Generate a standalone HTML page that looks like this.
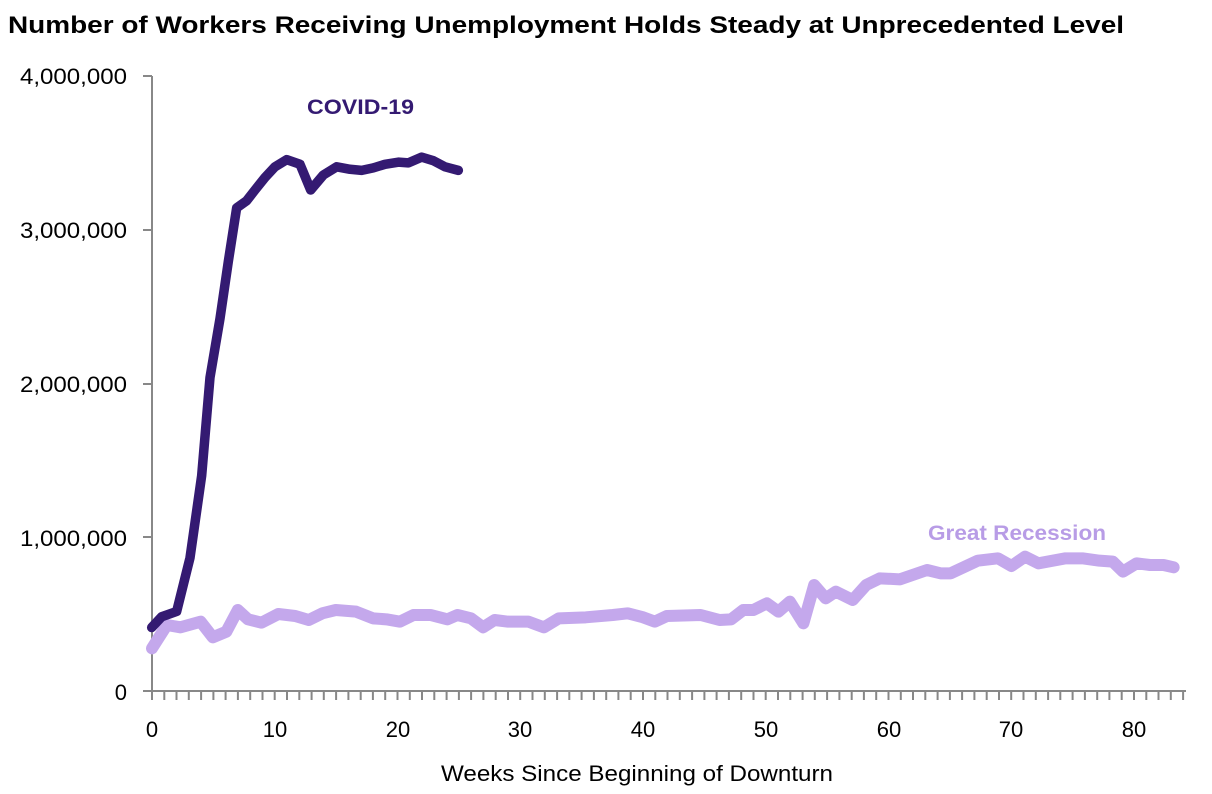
<!DOCTYPE html>
<html><head><meta charset="utf-8"><style>
html,body{margin:0;padding:0;background:#fff;}
svg{display:block;font-family:"Liberation Sans",sans-serif;}
</style></head><body>
<svg width="1212" height="794" viewBox="0 0 1212 794" xmlns="http://www.w3.org/2000/svg">
<text x="8" y="33" font-size="24" font-weight="bold" fill="#000" textLength="1116" lengthAdjust="spacingAndGlyphs">Number of Workers Receiving Unemployment Holds Steady at Unprecedented Level</text>
<g fill="#000" font-size="22" text-anchor="end">
<text x="127" y="84" textLength="107" lengthAdjust="spacingAndGlyphs">4,000,000</text>
<text x="127" y="238" textLength="107" lengthAdjust="spacingAndGlyphs">3,000,000</text>
<text x="127" y="392" textLength="107" lengthAdjust="spacingAndGlyphs">2,000,000</text>
<text x="127" y="546" textLength="107" lengthAdjust="spacingAndGlyphs">1,000,000</text>
<text x="127" y="700">0</text>
</g>
<g stroke="#888" stroke-width="2" fill="none">
<line x1="152" y1="76" x2="152" y2="692"/>
<line x1="143" y1="691" x2="1186" y2="691"/>
<line x1="143" y1="76" x2="152" y2="76"/>
<line x1="143" y1="230" x2="152" y2="230"/>
<line x1="143" y1="384" x2="152" y2="384"/>
<line x1="143" y1="537" x2="152" y2="537"/>
</g>
<g fill="#000" font-size="22" text-anchor="middle">
<text x="152" y="737">0</text>
<text x="275" y="737">10</text>
<text x="398" y="737">20</text>
<text x="520" y="737">30</text>
<text x="643" y="737">40</text>
<text x="766" y="737">50</text>
<text x="889" y="737">60</text>
<text x="1011" y="737">70</text>
<text x="1134" y="737">80</text>
</g>
<text x="441" y="781" font-size="22" fill="#000" textLength="392" lengthAdjust="spacingAndGlyphs">Weeks Since Beginning of Downturn</text>
<g transform="translate(139.84,540) scale(0.6757,0.33333)">
<polyline vector-effect="non-scaling-stroke" fill="none" stroke="#c4a8ec" stroke-width="12" stroke-linejoin="round" stroke-linecap="round" points="18,325 40,255 60,262 90,245 108,292 128,275 145,210 160,238 180,248 205,222 230,228 250,240 270,220 290,210 320,215 345,235 365,238 385,245 405,225 430,225 455,238 470,225 490,235 508,262 525,240 545,245 575,245 598,262 620,235 660,232 700,225 722,220 745,232 762,245 780,228 830,225 858,240 875,238 893,210 908,210 928,190 945,215 962,185 982,250 998,135 1015,175 1030,155 1055,180 1075,135 1095,115 1125,118 1165,90 1185,100 1200,100 1240,62 1270,55 1290,78 1310,50 1330,70 1370,55 1395,55 1420,62 1440,65 1455,95 1475,70 1495,75 1515,75 1530,82"/>
</g>
<g transform="translate(140,140) scale(0.33333,0.35714)">
<polyline vector-effect="non-scaling-stroke" fill="none" stroke="#341a72" stroke-width="9.5" stroke-linejoin="round" stroke-linecap="round" points="35,1365 65,1335 110,1320 150,1170 185,940 210,665 240,500 265,340 290,190 320,170 345,140 375,105 405,75 440,55 480,68 512,140 550,98 590,75 630,82 665,85 700,78 735,68 775,62 805,64 845,48 880,58 915,75 955,85"/>
</g>
<text x="307" y="114" font-size="21" font-weight="bold" fill="#341a72" textLength="107" lengthAdjust="spacingAndGlyphs">COVID-19</text>
<text x="928" y="540" font-size="21" font-weight="bold" fill="#b89ce6" textLength="178" lengthAdjust="spacingAndGlyphs">Great Recession</text>
<g stroke="#888" stroke-width="2">
<path d="M152 691v9M164.3 691v9M176.5 691v9M188.8 691v9M201.1 691v9M213.4 691v9M225.6 691v9M237.9 691v9M250.2 691v9M262.5 691v9M274.7 691v9M287 691v9M299.3 691v9M311.6 691v9M323.8 691v9M336.1 691v9M348.4 691v9M360.7 691v9M372.9 691v9M385.2 691v9M397.5 691v9M409.8 691v9M422 691v9M434.3 691v9M446.6 691v9M458.9 691v9M471.1 691v9M483.4 691v9M495.7 691v9M508 691v9M520.2 691v9M532.5 691v9M544.8 691v9M557.1 691v9M569.3 691v9M581.6 691v9M593.9 691v9M606.2 691v9M618.4 691v9M630.7 691v9M643 691v9M655.3 691v9M667.5 691v9M679.8 691v9M692.1 691v9M704.4 691v9M716.6 691v9M728.9 691v9M741.2 691v9M753.5 691v9M765.7 691v9M778 691v9M790.3 691v9M802.6 691v9M814.8 691v9M827.1 691v9M839.4 691v9M851.7 691v9M863.9 691v9M876.2 691v9M888.5 691v9M900.8 691v9M913 691v9M925.3 691v9M937.6 691v9M949.9 691v9M962.1 691v9M974.4 691v9M986.7 691v9M999 691v9M1011.2 691v9M1023.5 691v9M1035.8 691v9M1048.1 691v9M1060.3 691v9M1072.6 691v9M1084.9 691v9M1097.2 691v9M1109.4 691v9M1121.7 691v9M1134 691v9M1146.3 691v9M1158.5 691v9M1170.8 691v9M1183.1 691v9"/>
</g>
</svg>
</body></html>
